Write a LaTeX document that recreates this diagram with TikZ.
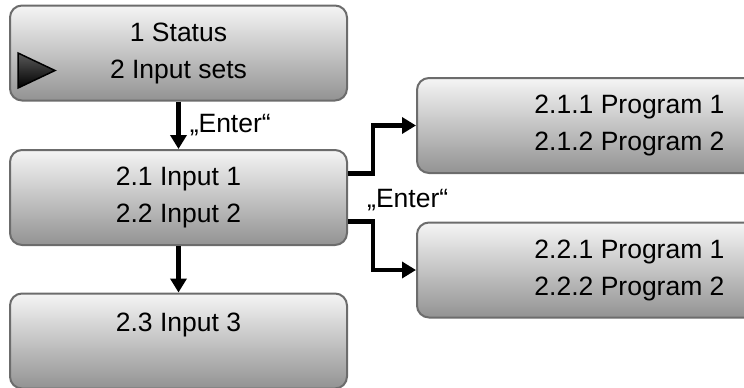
\documentclass[tikz,border=0pt]{standalone}
\usepackage{fontspec}
\setmainfont{Liberation Sans}
\usetikzlibrary{arrows.meta}

\begin{document}
\begin{tikzpicture}[x=1pt,y=-1pt]
\tikzstyle{menu} = [rectangle,rounded corners=12pt,draw=gray!85!black,line width=2pt,top color=gray!8,bottom color=gray!85,minimum width=337pt,minimum height=95pt,align=center,font=\fontsize{26.5}{37}\selectfont];
\tikzstyle{submenu} = [menu,minimum width=425pt];
\tikzstyle{enter} = [font=\fontsize{26.5}{30}\selectfont,inner sep=2pt];
\tikzstyle{go} = [line width=4.5pt,-{Triangle[width=16pt,length=14pt]}];
\path [use as bounding box,clip] (0,0) rectangle (744,388);
\node [menu] (status) at (178.5,53) {1 Status\\2 Input sets};
\node [menu] (inputs) at (178.5,197.5) {2.1 Input 1\\2.2 Input 2};
\node [menu] (input3) at (178.5,341) {2.3 Input 3\\~};
\node [submenu] (prog1) at (629.5,125.5) {2.1.1 Program 1\\2.1.2 Program 2};
\node [submenu] (prog2) at (629.5,270) {2.2.1 Program 1\\2.2.2 Program 2};
% cursor
\shade [top color=gray!70!black,bottom color=black,draw=black,line width=1.5pt] (18,53) -- (55,70.5) -- (18,88) -- cycle;
\draw [go] (status) -- node [enter,right=7pt] (enter1) {„Enter“} (inputs);
\draw [go] (inputs) -- (input3);
\draw [go] ([yshift=24pt]inputs.east) -- ++(25,0) |- (prog1.west);
\draw [go] ([yshift=-24pt]inputs.east) -- ++(25,0) |- (prog2.west);
\node [enter,right=17pt,yshift=-3pt] (enter2) at (inputs.east) {„Enter“};
\end{tikzpicture}
\end{document}
